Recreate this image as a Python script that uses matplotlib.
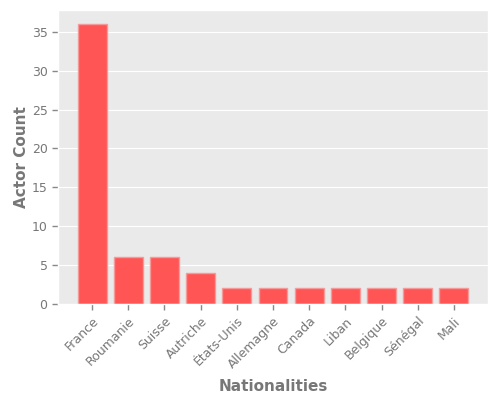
import matplotlib
matplotlib.use("Agg")
import matplotlib.pyplot as plt

plt.style.use("ggplot")

nationalities = ["France", "Roumanie", "Suisse", "Autriche", "États-Unis",
                 "Allemagne", "Canada", "Liban", "Belgique", "Sénégal", "Mali"]
actor_counts = [36, 6, 6, 4, 2, 2, 2, 2, 2, 2, 2]

fig, ax = plt.subplots(figsize=(5, 4), dpi=100)
fig.subplots_adjust(left=0.116, right=0.976, top=0.975, bottom=0.24)
ax.set_facecolor("#EAEAEA")

ax.bar(nationalities, actor_counts, width=0.8, color="#FF5555",
       edgecolor="#F59A9A", linewidth=1)
ax.set_xlabel("Nationalities", fontsize=11, fontweight="bold", color="#777777",
              labelpad=6)
ax.set_ylabel("Actor Count", fontsize=11, fontweight="bold", color="#777777",
              labelpad=2)
ax.tick_params(axis="both", which="major", labelsize=9, labelcolor="#777777",
               color="#888888", length=4, width=1, direction="out",
               bottom=True, left=True)
ax.grid(axis="x", visible=False)
plt.setp(ax.get_xticklabels(), rotation=45, ha="right", rotation_mode="anchor")

fig.savefig("out.png", dpi=100)
